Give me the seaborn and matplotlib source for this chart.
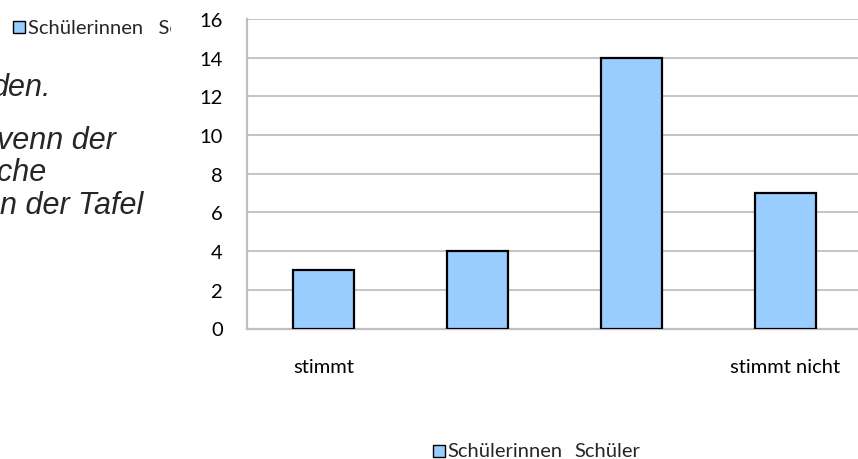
import matplotlib
matplotlib.use("Agg")
import matplotlib.pyplot as plt
import seaborn as sns
import pandas as pd
from matplotlib.patches import Rectangle
from matplotlib.transforms import Bbox

categories = ["k1", "k2", "k3", "k4"]
tick_labels = ["stimmt", "", "", "stimmt nicht"]
schuelerinnen = [3, 4, 14, 7]
series_names = ["Schülerinnen", "Schüler"]
y_ticks = [0, 2, 4, 6, 8, 10, 12, 14, 16]
slide_lines = ["den.", "venn der", "che", "n der Tafel"]

sns.set_theme(style="white")
plt.rcParams["font.family"] = ["Lato", "DejaVu Sans"]

W, H = 858, 460
fig = plt.figure(figsize=(W / 100, H / 100), dpi=100)
fig.patch.set_facecolor("white")

def fx(px):
    return px / W

def fy(py):
    return 1 - py / H

FS = 14.5

ax_left, ax_right, ax_top, ax_bottom = 246.5, 862.5, 20, 329.5
ax = fig.add_axes([fx(ax_left), fy(ax_bottom), fx(ax_right - ax_left), (ax_bottom - ax_top) / H])

df = pd.DataFrame({"cat": categories, "val": schuelerinnen})
bar_color = "#99CCFF"
sns.barplot(data=df, x="cat", y="val", color=bar_color, saturation=1,
            edgecolor="black", linewidth=1.6, width=0.4, ax=ax, zorder=3)

ax.set_xlim(-0.5, 3.5)
ax.set_ylim(0, 16)
ax.set_yticks(y_ticks)
ax.set_yticklabels([str(t) for t in y_ticks], fontsize=FS, color="black")
ax.set_xticks(range(len(categories)))
ax.set_xticklabels(tick_labels, fontsize=FS, color="black")
ax.set_xlabel("")
ax.set_ylabel("")
ax.tick_params(axis="y", length=0, pad=17)
ax.tick_params(axis="x", length=0, pad=21)
ax.grid(axis="y", color="#BFBFBF", linewidth=1.3, zorder=0)
ax.set_axisbelow(True)
for s in ["top", "right"]:
    ax.spines[s].set_visible(False)
for s in ["left", "bottom"]:
    ax.spines[s].set_color("#BFBFBF")
    ax.spines[s].set_linewidth(1.6)

# bottom legend
fig.patches.append(Rectangle((fx(433), fy(458)), fx(12), 12 / H, transform=fig.transFigure,
                             facecolor=bar_color, edgecolor="black", linewidth=1.0, figure=fig))
fig.text(fx(447), fy(452), series_names[0], fontsize=FS, va="center", ha="left")
fig.text(fx(574), fy(452), series_names[1], fontsize=FS, va="center", ha="left")

# clipped legend at top-left (from an overlaid chart)
fig.patches.append(Rectangle((fx(13), fy(34)), fx(12), 12 / H, transform=fig.transFigure,
                             facecolor=bar_color, edgecolor="black", linewidth=1.0, figure=fig))
t = fig.text(fx(28), fy(28), series_names[0] + "   " + series_names[1][:2], fontsize=FS,
             va="center", ha="left")
t.set_clip_box(Bbox([[0, 0], [171, H]]))
t.set_clip_on(True)

# slide text fragments (cut at the left edge of the picture)
for txt, xr, yb in zip(slide_lines, [51, 116, 46, 143], [96, 149, 181, 214]):
    fig.text(fx(xr), fy(yb), txt, fontsize=22, style="italic",
             family=["Liberation Sans", "DejaVu Sans"], va="baseline", ha="right")

fig.savefig("out.png", dpi=100, facecolor="white")
